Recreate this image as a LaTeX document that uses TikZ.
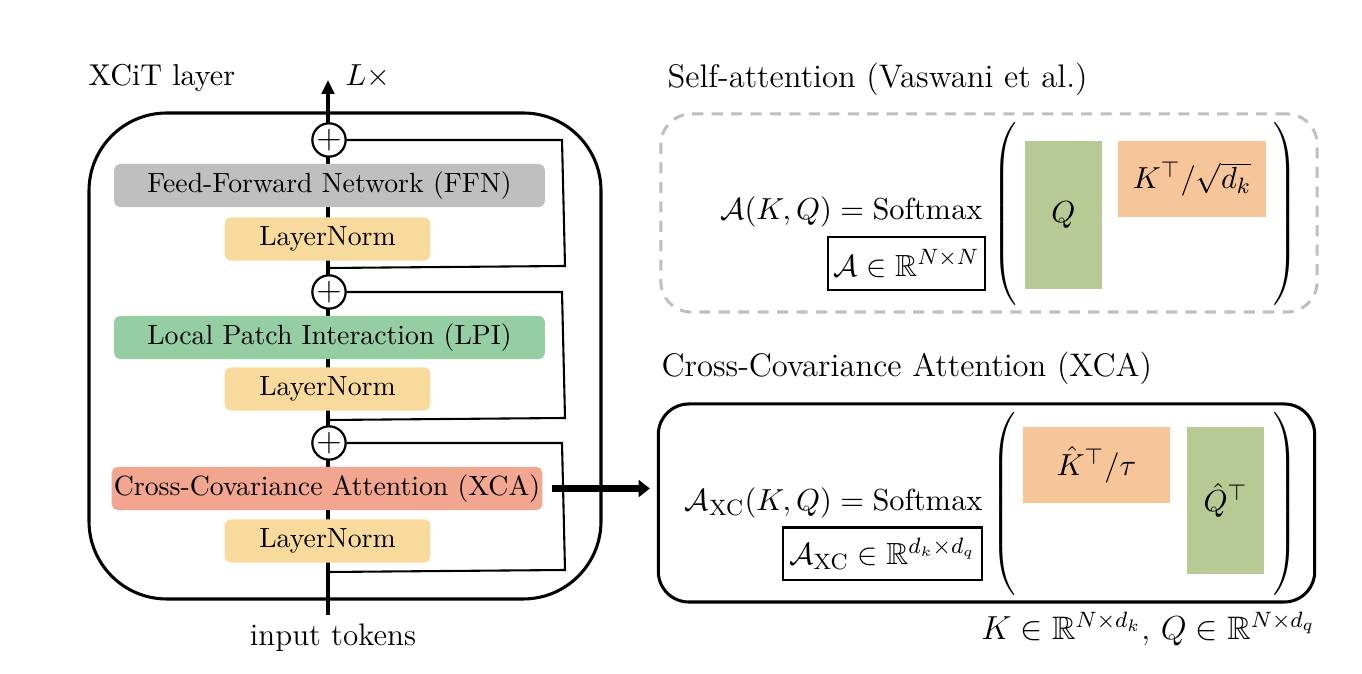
\documentclass[tikz,border=0pt]{standalone}
\usepackage{amsmath,amssymb}
\usepackage{tikz}
\usetikzlibrary{arrows.meta,positioning}
\definecolor{ffngray}{RGB}{191,191,191}
\definecolor{lpigreen}{RGB}{150,206,164}
\definecolor{xcared}{RGB}{242,165,143}
\definecolor{normyellow}{RGB}{248,219,156}
\definecolor{qgreen}{RGB}{183,202,147}
\definecolor{korange}{RGB}{247,197,154}

\begin{document}
\begin{tikzpicture}[x=0.36pt,y=-0.36pt,
    block/.style={rounded corners=2pt,minimum height=15.5pt,minimum width=155pt,inner sep=0pt,font=\fontsize{10}{12}\selectfont},
    normbox/.style={block,fill=normyellow,minimum width=74pt},
    addnode/.style={circle,draw,fill=white,line width=0.8pt,minimum size=11.5pt,inner sep=0pt,font=\large},
    skipline/.style={line width=0.75pt},
    label/.style={inner sep=0pt,font=\fontsize{10.85}{12}\selectfont},
    mat/.style={inner sep=0pt,font=\fontsize{11}{13}\selectfont},
    dimbox/.style={draw,line width=0.8pt,minimum height=19pt,inner xsep=2pt,font=\fontsize{11}{13}\selectfont},
    title/.style={inner sep=0pt,font=\fontsize{11.75}{13}\selectfont},
    attbox/.style={rounded corners=11pt,minimum width=236.3pt,minimum height=71.3pt,inner sep=0pt}]
  \useasboundingbox (0,0) rectangle (1362,674);

  % XCiT layer
  \draw[line width=1.1pt,rounded corners=28pt] (89,113) rectangle (601,599);
  \coordinate (in) at (328,615);
  \coordinate (out) at (328,80);
  \draw[line width=1.1pt,-{Triangle[length=5pt,width=4.5pt]}] (in) -- (out);
  \node[label,anchor=base west] (xcit) at (88,86) {XCiT layer};
  \node[label,anchor=base west] (reps) at (345,86) {$L\times$};
  \node[label,anchor=base,font=\fontsize{11.2}{12}\selectfont] (input) at (333,646) {input tokens};

  \node[block,fill=ffngray] (ffn) at (329.5,185.5) {Feed-Forward Network (FFN)};
  \node[normbox] (ln1) at (327.5,239) {LayerNorm};
  \node[block,fill=lpigreen] (lpi) at (329.5,337.5) {Local Patch Interaction (LPI)};
  \node[normbox] (ln2) at (327.5,389) {LayerNorm};
  \node[block,fill=xcared] (xca) at (327,488.5) {Cross-Covariance Attention (XCA)};
  \node[normbox] (ln3) at (327.5,541) {LayerNorm};

  \node[addnode] (add1) at (329,140) {$+$};
  \node[addnode] (add2) at (329,292) {$+$};
  \node[addnode] (add3) at (329,443) {$+$};

  % residual branches
  \coordinate (s1) at (328,268);
  \coordinate (s2) at (328,420);
  \coordinate (s3) at (328,572);
  \draw[skipline] (s1) -- (565,266) -- (562,140) -- (add1);
  \draw[skipline] (s2) -- (565,418) -- (562,292) -- (add2);
  \draw[skipline] (s3) -- (565,570) -- (562,443) -- (add3);

  % self-attention
  \node[title,anchor=base west] (satitle) at (667,88) {Self-attention (Vaswani et al.)};
  \node[attbox,draw=ffngray,line width=1.1pt,dash pattern=on 4pt off 3pt] (sabox) at (989,213) {};
  \node[mat,anchor=base east] (saeq) at (983,220) {$\mathcal{A}(K,Q)=\mathrm{Softmax}$};
  \node[dimbox,minimum width=55pt] (sadim) at (906.5,263.5) {$\mathcal{A}\in\mathbb{R}^{N\times N}$};
  \node[inner sep=0pt] (salp) at (1006,214) {$\left(\vcenter{\hbox{\rule{0pt}{66pt}}}\right.$};
  \node[inner sep=0pt] (sarp) at (1284,214) {$\left.\vcenter{\hbox{\rule{0pt}{66pt}}}\right)$};
  \node[mat,fill=qgreen,minimum width=27.7pt,minimum height=53.3pt] (saq) at (1063.5,215) {$Q$};
  \node[mat,fill=korange,minimum width=53.3pt,minimum height=27.4pt] (sak) at (1192,179) {$K^\top/\sqrt{d_k}$};

  % cross-covariance attention
  \node[title,anchor=base west] (xcatitle) at (661,377) {Cross-Covariance Attention (XCA)};
  \node[attbox,draw,line width=1.1pt] (xcabox) at (986.5,503) {};
  \node[mat,anchor=base east] (xceq) at (983,511) {$\mathcal{A}_{\mathrm{XC}}(K,Q)=\mathrm{Softmax}$};
  \node[dimbox,minimum width=71.6pt] (xcdim) at (882.5,554) {$\mathcal{A}_{\mathrm{XC}}\in\mathbb{R}^{d_k\times d_q}$};
  \node[inner sep=0pt] (xclp) at (1005,504) {$\left(\vcenter{\hbox{\rule{0pt}{66pt}}}\right.$};
  \node[inner sep=0pt] (xcrp) at (1284,504) {$\left.\vcenter{\hbox{\rule{0pt}{66pt}}}\right)$};
  \node[mat,fill=korange,minimum width=52.9pt,minimum height=27.4pt] (xck) at (1096.5,465) {$\hat{K}^\top/\tau$};
  \node[mat,fill=qgreen,minimum width=27.7pt,minimum height=52.9pt] (xcq) at (1225.5,500.5) {$\hat{Q}^\top$};
  \node[mat,anchor=base east,font=\fontsize{11.7}{13}\selectfont] (dims) at (1316,640) {$K\in\mathbb{R}^{N\times d_k}$, $Q\in\mathbb{R}^{N\times d_q}$};

  \draw[line width=2.8pt,-{Triangle[length=4pt,width=6pt]}] ([xshift=3.2pt]xca.east) -- ([xshift=-2.5pt]xca.east -| xcabox.west);
\end{tikzpicture}
\end{document}
